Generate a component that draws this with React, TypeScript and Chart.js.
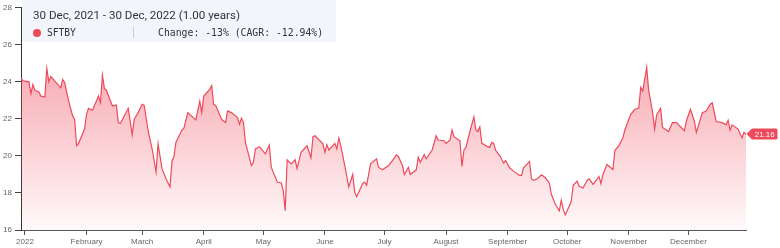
import React, { useEffect, useRef } from "react";
import { Chart, registerables } from "chart.js";

Chart.register(...registerables);

// Days since 30 Dec 2021
const dayIndex = [
  0, 1, 4, 5, 6, 7, 9, 10, 12, 13, 14, 15, 16, 20, 21, 22, 24, 26, 27, 28, 29, 32, 33, 34, 36, 39, 40, 41, 42, 43,
  46, 48, 49, 50, 54, 56, 57, 59, 61, 62, 64, 66, 68, 69, 71, 73, 75, 76, 77, 78, 81, 82, 84, 88, 90, 91, 92, 95,
  96, 97, 98, 101, 103, 104, 106, 109, 110, 111, 112, 113, 116, 117, 118, 120, 123, 125, 126, 129, 131, 132, 133,
  134, 136, 138, 139, 141, 144, 146, 147, 148, 152, 153, 154, 155, 158, 159, 160, 161, 163, 165, 167, 168, 169,
  172, 173, 174, 176, 179, 180, 182, 185, 187, 189, 190, 192, 193, 195, 196, 199, 200, 201, 203, 204, 207, 209,
  210, 213, 214, 216, 217, 218, 221, 222, 223, 224, 226, 228, 229, 230, 231, 232, 235, 236, 237, 238, 239, 241,
  243, 244, 246, 248, 251, 252, 253, 256, 257, 258, 260, 262, 264, 266, 267, 269, 271, 272, 273, 274, 277, 278,
  280, 281, 283, 285, 286, 288, 291, 292, 293, 295, 298, 299, 301, 303, 304, 306, 307, 309, 311, 312, 313, 315,
  316, 318, 319, 320, 322, 323, 326, 328, 330, 334, 335, 337, 339, 340, 343, 345, 347, 348, 350, 353, 355, 356,
  357, 358, 361, 363, 364, 365,
];

// SFTBY closing prices (USD)
const prices = [
  24.2, 24.05, 24.0, 23.36, 23.86, 23.54, 23.46, 23.23, 23.18, 24.72, 24.0, 24.3, 24.18, 23.68, 24.13, 23.95,
  22.96, 22.16, 21.98, 20.55, 20.68, 21.45, 22.25, 22.57, 22.47, 23.23, 22.87, 24.36, 23.64, 23.55, 22.7, 22.75,
  21.8, 21.75, 22.57, 21.14, 21.98, 22.34, 22.79, 22.73, 21.36, 20.38, 19.13, 20.65, 19.31, 18.77, 18.32, 19.7,
  19.97, 20.73, 21.4, 21.5, 22.34, 21.95, 22.96, 22.34, 23.23, 23.59, 23.8, 22.79, 22.73, 21.98, 21.8, 22.43,
  22.34, 22.07, 21.71, 22.04, 21.8, 20.73, 19.48, 19.66, 20.38, 20.5, 20.11, 20.59, 19.39, 18.59, 18.54, 18.14,
  17.04, 19.79, 19.57, 19.79, 19.31, 20.2, 20.55, 19.9, 21.04, 21.09, 20.65, 20.2, 20.61, 20.32, 20.68, 20.38,
  20.97, 20.55, 19.48, 18.32, 19.0, 18.05, 17.79, 18.5, 18.59, 18.41, 19.57, 19.84, 19.39, 19.25, 19.48, 19.75,
  20.06, 19.97, 19.48, 19.0, 19.39, 19.0, 19.25, 19.93, 19.66, 20.07, 19.84, 20.32, 21.09, 20.86, 20.82, 20.68,
  20.86, 21.4, 21.04, 20.82, 19.43, 20.32, 20.46, 21.32, 22.11, 21.4, 21.32, 21.57, 20.68, 20.5, 20.46, 20.73,
  20.68, 20.29, 20.02, 19.61, 19.75, 19.36, 19.18, 18.95, 18.95, 19.36, 19.7, 18.77, 18.68, 18.77, 18.98, 18.82,
  18.54, 17.93, 17.39, 17.04, 17.61, 17.11, 16.81, 17.52, 18.41, 18.64, 18.36, 18.27, 18.68, 18.77, 18.46, 18.89,
  18.5, 19.0, 19.54, 19.27, 20.29, 20.55, 20.97, 21.4, 21.98, 22.25, 22.52, 22.57, 23.71, 23.5, 24.79, 23.54,
  22.34, 21.45, 22.21, 22.57, 21.54, 21.32, 21.8, 21.8, 21.36, 21.89, 22.52, 21.89, 21.27, 22.34, 22.43, 22.79,
  22.87, 21.86, 21.8, 21.68, 21.93, 21.4, 21.68, 21.45, 20.97, 21.27, 21.16,
];

const monthTickDays = [2, 33, 61, 92, 122, 153, 183, 214, 245, 275, 306, 336];
const monthTickLabels = [
  "2022", "February", "March", "April", "May", "June", "July", "August", "September", "October", "November", "December",
];
const yTickValues = [16, 18, 20, 22, 24, 26, 28];

const seriesName = "SFTBY";
const periodLabel = "30 Dec, 2021 - 30 Dec, 2022 (1.00 years)";
const changeLabel = "Change: -13% (CAGR: -12.94%)";

const lineColor = "#ee4a5b";

const lastTagPlugin = {
  id: "lastTag",
  afterDatasetsDraw(chart: any) {
    const ctx = chart.ctx;
    const xs = chart.scales.x;
    const ys = chart.scales.y;
    const v = prices[prices.length - 1];
    const x = xs.getPixelForValue(dayIndex[dayIndex.length - 1]) + 0.5;
    const y = ys.getPixelForValue(v) - 0.5;
    const h = 11;
    const bx = x + 5.5;
    const w = 25.5;
    const r = 1.5;
    ctx.save();
    ctx.fillStyle = lineColor;
    ctx.beginPath();
    ctx.moveTo(x, y);
    ctx.lineTo(bx, y - h / 2);
    ctx.lineTo(bx + w - r, y - h / 2);
    ctx.quadraticCurveTo(bx + w, y - h / 2, bx + w, y - h / 2 + r);
    ctx.lineTo(bx + w, y + h / 2 - r);
    ctx.quadraticCurveTo(bx + w, y + h / 2, bx + w - r, y + h / 2);
    ctx.lineTo(bx, y + h / 2);
    ctx.closePath();
    ctx.fill();
    ctx.fillStyle = "#ffffff";
    ctx.font = '8px "Liberation Sans", Arial, sans-serif';
    ctx.textAlign = "center";
    ctx.textBaseline = "middle";
    ctx.fillText(v.toFixed(2), bx + w / 2, y + 0.5);
    ctx.restore();
  },
};

export default function App() {
  const canvasRef = useRef<HTMLCanvasElement | null>(null);

  useEffect(() => {
    if (!canvasRef.current) return;
    const points = dayIndex.map((d, i) => ({ x: d, y: prices[i] }));
    const chart = new Chart(canvasRef.current, {
      type: "line",
      data: {
        datasets: [
          {
            label: seriesName,
            data: points,
            borderColor: lineColor,
            borderWidth: 1.2,
            pointRadius: 0,
            tension: 0,
            fill: "start",
            backgroundColor: (c: any) => {
              const area = c.chart.chartArea;
              if (!area) return "rgba(238,74,91,0.3)";
              const g = c.chart.ctx.createLinearGradient(0, area.top, 0, area.bottom);
              g.addColorStop(0, "rgba(238,74,91,0.62)");
              g.addColorStop(1, "rgba(238,74,91,0.03)");
              return g;
            },
          },
        ],
      },
      options: {
        animation: false,
        responsive: false,
        maintainAspectRatio: false,
        layout: { padding: { left: 0, top: 6, right: 34, bottom: 0 } },
        plugins: { legend: { display: false }, tooltip: { enabled: false } },
        scales: {
          x: {
            type: "linear",
            min: 0,
            max: 365,
            afterBuildTicks: (scale: any) => {
              scale.ticks = monthTickDays.map((v) => ({ value: v }));
            },
            afterFit: (scale: any) => {
              scale.height = 18;
            },
            ticks: {
              autoSkip: false,
              maxRotation: 0,
              padding: 2,
              color: "#666",
              font: { family: '"Liberation Sans", Arial, sans-serif', size: 8 },
              callback: (value: any) => {
                const i = monthTickDays.indexOf(value);
                return i >= 0 ? monthTickLabels[i] : "";
              },
            },
            grid: { display: true, drawOnChartArea: false, drawTicks: true, tickLength: 5, color: "#555" },
            border: { display: true, color: "#555", width: 1 },
          },
          y: {
            type: "linear",
            min: 16,
            max: 28,
            afterBuildTicks: (scale: any) => {
              scale.ticks = yTickValues.map((v) => ({ value: v }));
            },
            afterFit: (scale: any) => {
              scale.width = 21;
            },
            ticks: {
              padding: 3,
              color: "#666",
              font: { family: '"Liberation Sans", Arial, sans-serif', size: 8 },
            },
            grid: { display: true, drawOnChartArea: false, drawTicks: true, tickLength: 6, color: "#444" },
            border: { display: true, color: "#333", width: 1 },
          },
        },
      },
      plugins: [lastTagPlugin],
    });
    return () => chart.destroy();
  }, []);

  return (
    <div style={{ position: "fixed", left: 0, top: 0, width: 780, height: 248, background: "#fff" }}>
      <canvas ref={canvasRef} width={780} height={248} style={{ display: "block" }} />
      <div
        style={{
          position: "absolute",
          left: 22,
          top: 0,
          width: 314,
          height: 42,
          background: "rgba(241,246,252,0.95)",
          boxSizing: "border-box",
        }}
      >
        <div
          style={{
            position: "absolute",
            left: 11,
            top: 8,
            fontFamily: "Roboto, sans-serif",
            fontSize: 11.6,
            lineHeight: "14px",
            color: "#333",
            whiteSpace: "nowrap",
          }}
        >
          {periodLabel}
        </div>
        <div
          style={{
            position: "absolute",
            left: 11,
            top: 29,
            width: 8,
            height: 8,
            borderRadius: 4,
            background: lineColor,
          }}
        />
        <div
          style={{
            position: "absolute",
            left: 25,
            top: 26,
            fontFamily: '"DejaVu Sans Mono", monospace',
            fontSize: 9.6,
            lineHeight: "13px",
            color: "#333",
            whiteSpace: "nowrap",
          }}
        >
          {seriesName}
        </div>
        <div style={{ position: "absolute", left: 111, top: 27, width: 1, height: 11, background: "#ccc" }} />
        <div
          style={{
            position: "absolute",
            left: 136,
            top: 26,
            fontFamily: '"DejaVu Sans Mono", monospace',
            fontSize: 9.8,
            lineHeight: "13px",
            color: "#333",
            whiteSpace: "nowrap",
          }}
        >
          {changeLabel}
        </div>
      </div>
    </div>
  );
}
